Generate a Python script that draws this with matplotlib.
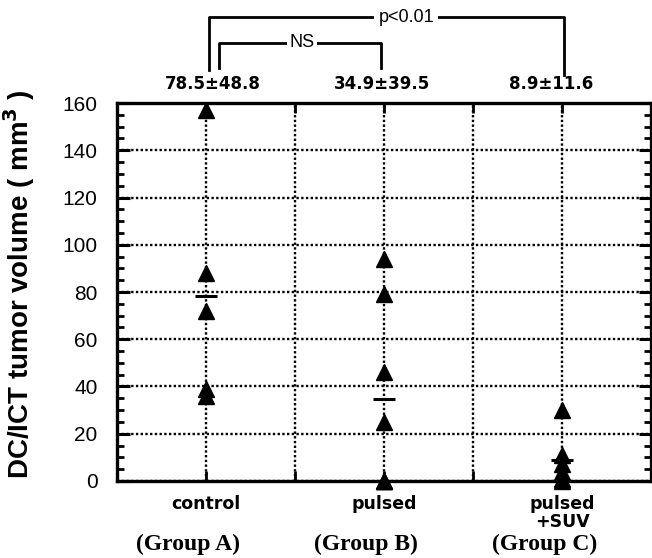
import matplotlib
matplotlib.use('Agg')
import matplotlib.pyplot as plt
import matplotlib.transforms as mtransforms
from matplotlib.ticker import MultipleLocator

# 数据
groups = ['control', 'pulsed', 'pulsed\n+SUV']
group_names = ['(Group A)', '(Group B)', '(Group C)']
group_pos = [1, 3, 5]
volumes_a = [157, 88, 72, 39, 36]
volumes_b = [94, 79, 46, 25, 0, 0, 0]
volumes_c = [30, 11, 7, 4, 1, 0]
means = [78.5, 34.9, 8.9]
sds = [48.8, 39.5, 11.6]

fig = plt.figure(figsize=(6.52, 5.58), dpi=100)
ax = fig.add_axes([0.1794, 0.138, 0.8191, 0.6774])

# 三角形数据点
for x, vals in zip(group_pos, [volumes_a, volumes_b, volumes_c]):
    ax.plot([x] * len(vals), vals, linestyle='none', marker='^', ms=11.5,
            color='black', clip_on=False, zorder=5)

# 均值短横线
ax.plot(group_pos, means, linestyle='none', marker='_', ms=16, mew=2.2,
        color='black', clip_on=False, zorder=6)

# 坐标轴
ax.set_xlim(0, 6)
ax.set_ylim(0, 160)
ax.yaxis.set_major_locator(MultipleLocator(20))
ax.yaxis.set_minor_locator(MultipleLocator(5))
ax.set_xticks([1, 2, 3, 4, 5])
ax.set_xticklabels([groups[0], '', groups[1], '', groups[2]],
                   fontsize=12.5, fontweight='bold', family='DejaVu Sans',
                   linespacing=1.0)
ax.tick_params(axis='y', which='major', direction='in', length=9, width=2.2,
               right=True, labelsize=15, pad=14)
ax.tick_params(axis='y', which='minor', direction='in', length=5, width=2,
               right=True)
ax.tick_params(axis='x', which='major', direction='in', length=7, width=2,
               top=True, pad=10)
for lab in ax.get_yticklabels():
    lab.set_family('Liberation Sans')
for sp in ax.spines.values():
    sp.set_linewidth(2.4)

ax.grid(True, color='black', linestyle=(0, (1, 1)), linewidth=1.7)
ax.set_axisbelow(True)

ax.set_ylabel('DC/ICT tumor volume ( mm$^\\mathbf{3}$ )', fontsize=20,
              fontweight='bold', family='Liberation Sans')
ax.yaxis.set_label_coords(-0.15, 0.52)

# 注释：混合坐标 (x为数据, y为轴比例)
trans = mtransforms.blended_transform_factory(ax.transData, ax.transAxes)

for x, name in zip(group_pos, group_names):
    ax.text(x - 0.2, -0.169, name, transform=trans, ha='center', va='center',
            fontsize=17, fontweight='bold', family='Liberation Serif')

stat_x = [1.08, 2.98, 4.88]
for x, m, s in zip(stat_x, means, sds):
    ax.text(x, 1.05, f'{m}±{s}', transform=trans, ha='center', va='center',
            fontsize=12, fontweight='bold', family='DejaVu Sans')

# 显著性括号
ax.plot([1.03, 1.03, 5.02, 5.02], [1.087, 1.2275, 1.2275, 1.074],
        color='black', lw=2, transform=trans, clip_on=False)
ax.text(3.25, 1.2275, 'p<0.01', transform=trans, ha='center', va='center',
        fontsize=13, family='Liberation Sans',
        bbox=dict(facecolor='white', edgecolor='none', pad=3))
ax.plot([1.15, 1.15, 2.97, 2.97], [1.093, 1.159, 1.159, 1.093],
        color='black', lw=2, transform=trans, clip_on=False)
ax.text(2.08, 1.159, 'NS', transform=trans, ha='center', va='center',
        fontsize=13, family='Liberation Sans',
        bbox=dict(facecolor='white', edgecolor='none', pad=1.5))

fig.savefig('out.png', dpi=100)
